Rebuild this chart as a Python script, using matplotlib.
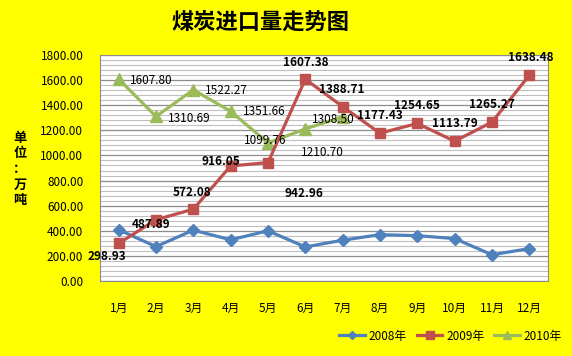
import matplotlib
matplotlib.use("Agg")
import matplotlib.pyplot as plt
from matplotlib.ticker import MultipleLocator

plt.rcParams['font.family'] = ['Noto Sans CJK SC', 'DejaVu Sans']

# ---- data ----
months = ["1月", "2月", "3月", "4月", "5月", "6月", "7月", "8月", "9月", "10月", "11月", "12月"]
y2008 = [408, 274, 405, 328, 400, 271, 325, 369, 361, 338, 209, 258]
y2009 = [298.93, 487.89, 572.08, 916.05, 942.96, 1607.38, 1388.71, 1177.43,
         1254.65, 1113.79, 1265.27, 1638.48]
y2010 = [1607.80, 1310.69, 1522.27, 1351.66, 1099.76, 1210.70, 1308.50]

# label offsets in pixels (dx, dy) -- matplotlib dy is upward
off2009 = [(-12, -13), (-5, -5), (-1, 17), (-10, 4), (36, -31), (0, 17),
           (-1, 17), (0, 18), (0, 18), (0, 18), (0, 18), (1, 18)]
off2010 = [(33, -1), (33, -2), (33, -1), (34, 0), (-3, 2), (17, -24), (-9, -3)]

c08, c09, c10 = "#4F81BD", "#C0504D", "#9BBB59"

fig = plt.figure(figsize=(5.72, 3.56), dpi=100, facecolor="#FFFF00")
ax = fig.add_axes([0.1748, 0.2107, 0.7832, 0.6348])
ax.set_facecolor("white")

x = list(range(len(months)))
ax.plot(x, y2008, color=c08, lw=2.3, marker="D", ms=6, label="2008年", zorder=3)
ax.plot(x, y2009, color=c09, lw=2.3, marker="s", ms=7.5, label="2009年", zorder=4)
ax.plot(x[:len(y2010)], y2010, color=c10, lw=2.3, marker="^", ms=8, label="2010年", zorder=3)

for i, v in enumerate(y2009):
    ax.annotate(f"{v:.2f}", (i, v), xytext=off2009[i], textcoords="offset pixels",
                ha="center", va="center", fontsize=8.5, fontweight="bold", color="black", zorder=6)
for i, v in enumerate(y2010):
    ax.annotate(f"{v:.2f}", (i, v), xytext=off2010[i], textcoords="offset pixels",
                ha="center", va="center", fontsize=8.5, color="black", zorder=6)

ax.set_xlim(-0.5, len(months) - 0.5)
ax.set_ylim(0, 1800)
ax.set_xticks(x)
ax.set_xticklabels(months, fontsize=8.5)
ax.yaxis.set_major_locator(MultipleLocator(200))
ax.yaxis.set_minor_locator(MultipleLocator(40))
ax.set_yticks(range(0, 1801, 200))
ax.set_yticklabels([f"{t:.2f}" for t in range(0, 1801, 200)], fontsize=8.5)
ax.tick_params(axis="both", length=0)
ax.tick_params(axis="y", which="minor", length=0)
ax.tick_params(axis="x", pad=15)
ax.tick_params(axis="y", pad=12)
ax.grid(axis="y", which="minor", color="#BFBFBF", lw=0.8)
ax.grid(axis="y", which="major", color="#8C8C8C", lw=0.9)
ax.set_axisbelow(True)
for s in ax.spines.values():
    s.set_color("#8C8C8C")

fig.text(0.455, 0.938, "煤炭进口量走势图", ha="center", va="center", fontsize=16, fontweight="bold")
fig.text(0.035, 0.525, "\n".join("单位：万吨"), ha="center", va="center", fontsize=9.5,
         fontweight="bold", linespacing=1.15)

fig.legend(loc="center right", bbox_to_anchor=(1.0, 0.056), ncol=3, frameon=False,
           fontsize=8.5, handlelength=2.2, columnspacing=0.8, handletextpad=0.3,
           markerscale=0.7)

fig.savefig("out.png", dpi=100, facecolor=fig.get_facecolor())
